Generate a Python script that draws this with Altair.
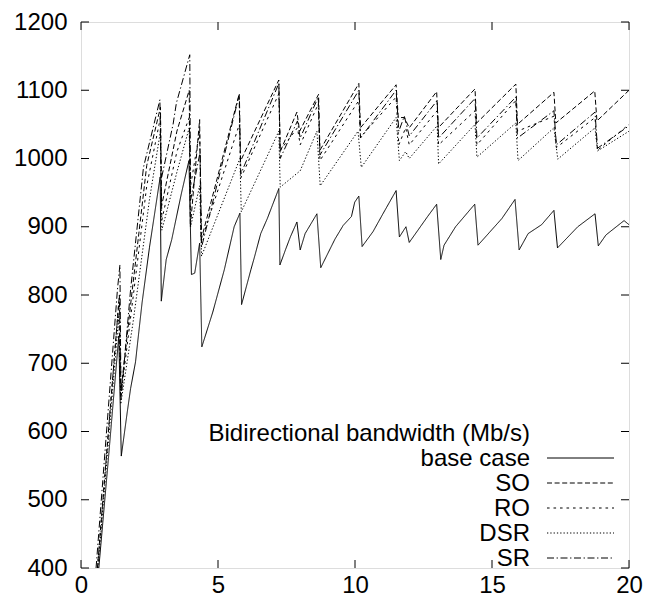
import altair as alt
import pandas as pd

# ---------------- data ----------------
base_x = [0.65, 1.0, 1.38, 1.47, 1.69, 1.81, 1.99, 2.11, 2.23, 2.5, 2.89, 2.93, 3.11, 3.31, 3.66, 3.94,
          4.03, 4.15, 4.33, 4.41, 4.81, 5.23, 5.59, 5.80, 5.86, 6.20, 6.32, 6.56, 6.80, 7.22, 7.26, 7.46,
          7.64, 7.88, 8.0, 8.18, 8.61, 8.75, 9.27, 9.57, 9.87, 9.99, 10.14, 10.26, 10.66, 11.02, 11.50,
          11.62, 11.86, 11.98, 12.65, 12.98, 13.13, 13.25, 13.67, 14.37, 14.49, 15.36, 15.84, 15.99,
          16.32, 16.81, 17.26, 17.39, 18.13, 18.76, 18.88, 19.16, 19.82, 20.0]
base_y = [400, 560, 740, 564, 629, 663, 702, 746, 789, 870, 973, 791, 852, 881, 948, 997,
          830, 832, 876, 724, 775, 837, 900, 920, 786, 837, 854, 890, 912, 956, 844, 866,
          885, 907, 866, 890, 919, 840, 882, 902, 915, 936, 945, 871, 893, 919, 953,
          885, 900, 877, 915, 933, 852, 873, 900, 933, 873, 912, 940, 866,
          890, 903, 924, 869, 900, 919, 872, 888, 909, 903]

so_x = [0.6, 1.40, 1.46, 1.85, 2.4, 2.90, 2.94, 3.5, 3.95, 3.99, 4.33, 4.38, 5.77, 5.82, 7.22, 7.27,
        7.88, 7.98, 8.67, 8.72, 10.14, 10.2, 11.5, 11.58, 11.8, 11.98, 12.98, 13.04, 14.38, 14.44,
        15.87, 15.93, 17.26, 17.33, 18.75, 18.83, 20.0]
so_y = [400, 800, 660, 800, 990, 1075, 930, 1040, 1100, 900, 1057, 880, 1094, 996, 1115, 1010,
        1068, 1040, 1094, 1012, 1110, 1045, 1108, 1060, 1060, 1045, 1098, 1045, 1102, 1052,
        1109, 1050, 1097, 1052, 1099, 1055, 1100]

ro_x = [0.6, 1.38, 1.45, 1.85, 2.4, 2.90, 2.95, 3.5, 3.95, 4.0, 4.33, 4.4, 5.78, 5.84, 7.22, 7.27,
        7.9, 8.0, 8.66, 8.72, 10.14, 10.2, 11.5, 11.6, 11.85, 11.98, 13.0, 13.05, 14.38, 14.45,
        15.87, 15.93, 17.26, 17.35, 18.76, 18.85, 20.0]
ro_y = [400, 790, 650, 780, 960, 1060, 910, 1010, 1060, 960, 1040, 880, 1050, 972, 1095, 1012,
        1045, 1020, 1080, 997, 1085, 1031, 1090, 1020, 1045, 1020, 1070, 1020, 1070, 1020,
        1085, 1040, 1062, 1016, 1060, 1012, 1050]

dsr_x = [0.62, 1.38, 1.45, 1.9, 2.5, 2.90, 2.95, 3.5, 3.95, 4.0, 4.33, 4.4, 5.8, 5.85, 7.22, 7.27,
         8.0, 8.61, 8.73, 10.11, 10.23, 11.5, 11.62, 11.85, 11.98, 13.0, 13.05, 14.38, 14.45,
         15.87, 15.95, 17.26, 17.4, 18.76, 18.85, 20.0]
dsr_y = [400, 770, 640, 760, 940, 1040, 895, 980, 1045, 900, 960, 857, 1000, 922, 1040, 958,
         982, 1040, 960, 1040, 987, 1060, 997, 1010, 1000, 1048, 992, 1050, 1002,
         1052, 997, 1045, 999, 1045, 1011, 1040]

sr_x = [0.55, 1.33, 1.42, 1.46, 1.81, 2.28, 2.88, 2.92, 3.36, 3.48, 3.97, 4.0, 4.35, 4.40, 5.78,
        5.83, 7.22, 7.27, 7.9, 8.0, 8.66, 8.72, 10.14, 10.2, 11.5, 11.6, 11.8, 11.98, 13.0, 13.05,
        14.38, 14.45, 15.87, 15.93, 17.26, 17.35, 18.76, 18.85, 20.0]
sr_y = [400, 808, 844, 648, 808, 987, 1086, 968, 1050, 1081, 1152, 939, 1010, 870, 1094,
        977, 1110, 1000, 1055, 1030, 1090, 1005, 1100, 1030, 1100, 1040, 1062, 1033, 1085, 1030,
        1088, 1030, 1090, 1030, 1070, 1020, 1068, 1015, 1048]

series_names = ["base case", "SO", "RO", "DSR", "SR"]
series_dash = [[1, 0], [5, 2.6], [2.6, 3.9], [1.3, 2], [7, 2.6, 1.3, 2.6]]
x_ticks = [0, 5, 10, 15, 20]
y_ticks = [400, 500, 600, 700, 800, 900, 1000, 1100, 1200]
legend_title = "Bidirectional bandwidth (Mb/s)"

# ---------------- build table ----------------
rows = []
for name, xs, ys in zip(series_names,
                        [base_x, so_x, ro_x, dsr_x, sr_x],
                        [base_y, so_y, ro_y, dsr_y, sr_y]):
    for i, (a, b) in enumerate(zip(xs, ys)):
        rows.append({"series": name, "x": a, "y": b, "i": i})
df = pd.DataFrame(rows)

PL, PT, PR, PB = 73, 14, 14, 33
W, H = 635 - PL - PR, 593 - PT - PB
FONT = "Liberation Sans"
FS = 24

xscale = alt.Scale(domain=[0, 20], nice=False, zero=False)
yscale = alt.Scale(domain=[400, 1200], nice=False, zero=False)

lines = alt.Chart(df).mark_line(strokeWidth=1, color="black", clip=True).encode(
    x=alt.X("x:Q", scale=xscale,
            axis=alt.Axis(values=x_ticks, ticks=False, domain=False, grid=False, title=None,
                          format="d", labelFontSize=FS, labelFont=FONT, labelColor="black",
                          labelPadding=5, labelFlush=False)),
    y=alt.Y("y:Q", scale=yscale,
            axis=alt.Axis(values=y_ticks, ticks=False, domain=False, grid=False, title=None,
                          format="d", labelFontSize=FS, labelFont=FONT, labelColor="black",
                          labelPadding=14, labelFlush=False)),
    detail="series:N",
    order="i:Q",
    strokeDash=alt.StrokeDash("series:N",
                              scale=alt.Scale(domain=series_names, range=series_dash),
                              legend=None),
)

xt = pd.DataFrame({"v": x_ticks})
yt = pd.DataFrame({"v": y_ticks})
TL = 8
tick_layers = [
    alt.Chart(yt).mark_rule(color="black", strokeWidth=1).encode(
        y=alt.Y("v:Q", scale=yscale), x=alt.value(0), x2=alt.value(TL)),
    alt.Chart(yt).mark_rule(color="black", strokeWidth=1).encode(
        y=alt.Y("v:Q", scale=yscale), x=alt.value(W - TL), x2=alt.value(W)),
    alt.Chart(xt).mark_rule(color="black", strokeWidth=1).encode(
        x=alt.X("v:Q", scale=xscale), y=alt.value(H - TL), y2=alt.value(H)),
    alt.Chart(xt).mark_rule(color="black", strokeWidth=1).encode(
        x=alt.X("v:Q", scale=xscale), y=alt.value(0), y2=alt.value(TL)),
]

# ---------------- legend (gnuplot style: label left, sample right) ----------------
LX_TEXT = W - 99
LX0, LX1 = W - 82, W - 15
BASE0 = H - 127
STEP = 25
legend_layers = [
    alt.Chart(pd.DataFrame({"t": [legend_title]})).mark_text(
        align="right", baseline="alphabetic", font=FONT, fontSize=FS, color="black").encode(
        text="t:N", x=alt.value(LX_TEXT), y=alt.value(BASE0))
]
for k, (name, dash) in enumerate(zip(series_names, series_dash)):
    yb = BASE0 + STEP * (k + 1)
    ld = pd.DataFrame({"t": [name]})
    legend_layers.append(
        alt.Chart(ld).mark_text(align="right", baseline="alphabetic", font=FONT,
                                fontSize=FS, color="black").encode(
            text="t:N", x=alt.value(LX_TEXT), y=alt.value(yb)))
    legend_layers.append(
        alt.Chart(ld).mark_rule(color="black", strokeWidth=1, strokeDash=dash).encode(
            x=alt.value(LX0), x2=alt.value(LX1), y=alt.value(yb - 8)))

chart = alt.layer(lines, *tick_layers, *legend_layers).properties(
    width=W, height=H,
    autosize=alt.AutoSizeParams(type="none"),
    padding={"left": PL, "top": PT, "right": PR, "bottom": PB},
).configure_view(stroke="black", strokeWidth=1).configure(background="white")

chart.save("out.html", embed_options={"renderer": "svg", "actions": False})
